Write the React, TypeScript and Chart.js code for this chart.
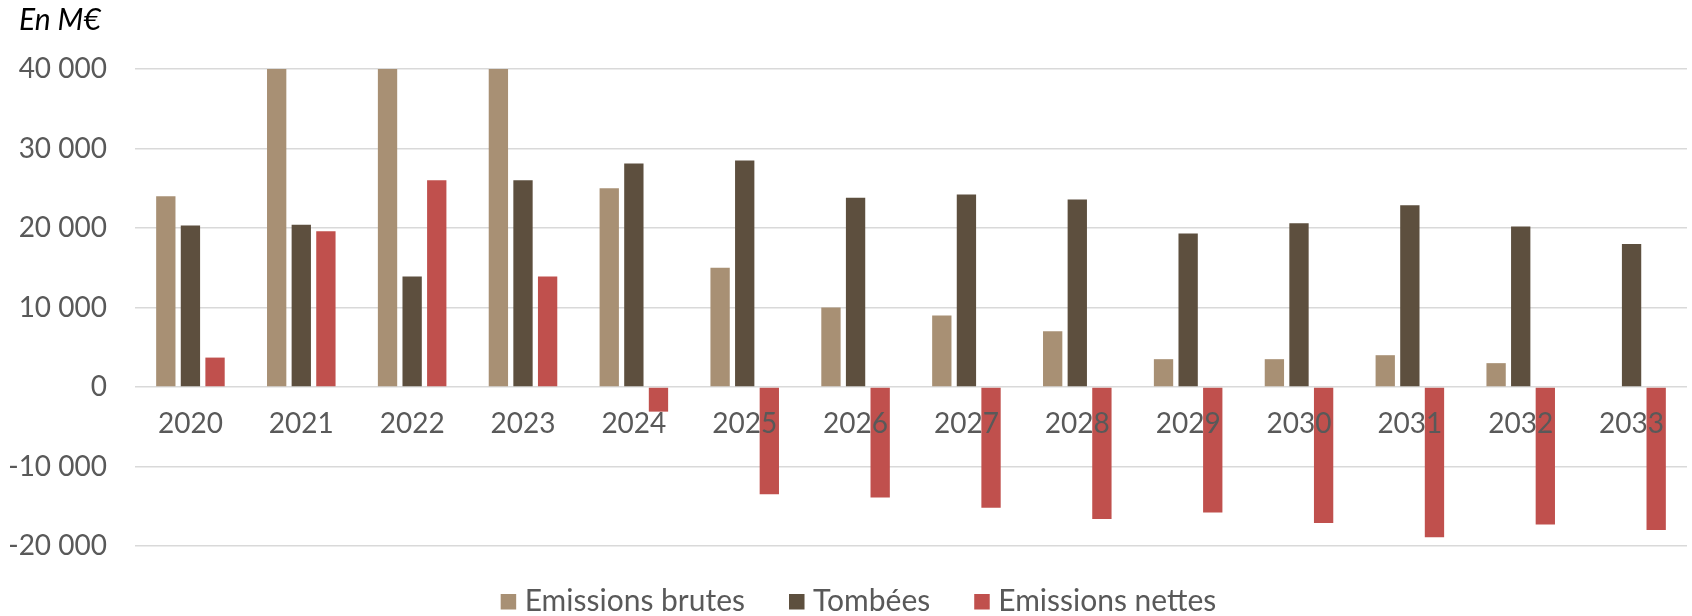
import { useEffect, useRef } from "react";
import { Chart, registerables } from "chart.js";

Chart.register(...registerables);

// Years on the category axis
const years = ["2020", "2021", "2022", "2023", "2024", "2025", "2026", "2027", "2028", "2029", "2030", "2031", "2032", "2033"];

// Series, in M€
const emissionsBrutes = [24000, 40000, 40000, 40000, 25000, 15000, 10000, 9000, 7000, 3500, 3500, 4000, 3000, 0];
const tombees = [20300, 20400, 13900, 26000, 28100, 28500, 23800, 24200, 23600, 19300, 20600, 22850, 20200, 18000];
const emissionsNettes = [3700, 19600, 26000, 13900, -3100, -13500, -13900, -15200, -16600, -15800, -17100, -18900, -17300, -18000];

// Value axis ticks
const yTickValues = [-20000, -10000, 0, 10000, 20000, 30000, 40000];

const seriesNames = ["Emissions brutes", "Tombées", "Emissions nettes"];
const seriesColors = ["#A89074", "#5D4F3E", "#C0504D"];

const unitLabel = "En M€";
const FONT = "Lato, 'Open Sans', sans-serif";
const TEXT_GREY = "#595959";

const formatThousands = (v: number) => {
  const sign = v < 0 ? "-" : "";
  const s = Math.abs(v).toString().replace(/\B(?=(\d{3})+(?!\d))/g, " ");
  return sign + s;
};

// Unit caption in the top-left corner
const unitPlugin = {
  id: "unitCaption",
  afterDraw(chart: any) {
    const ctx = chart.ctx;
    ctx.save();
    ctx.font = `italic 30px ${FONT}`;
    ctx.fillStyle = "#000000";
    ctx.textAlign = "left";
    ctx.textBaseline = "alphabetic";
    ctx.fillText(unitLabel, 19, 29.5);
    ctx.restore();
  },
};

// Legend row along the bottom edge
const bottomLegendPlugin = {
  id: "bottomLegend",
  afterDraw(chart: any) {
    const ctx = chart.ctx;
    ctx.save();
    ctx.font = `30px ${FONT}`;
    const box = 15.5;
    const gapText = 8.5;
    const gapItem = 44;
    const items = chart.data.datasets.map((ds: any) => ({
      text: ds.label as string,
      color: ds.backgroundColor as string,
      w: ctx.measureText(ds.label).width,
    }));
    const total =
      items.reduce((s: number, it: any) => s + box + gapText + it.w, 0) + gapItem * (items.length - 1);
    let x = chart.width / 2 + 12.5 - total / 2;
    const baseline = chart.height - 5.3;
    ctx.textAlign = "left";
    ctx.textBaseline = "alphabetic";
    for (const it of items) {
      ctx.fillStyle = it.color;
      ctx.fillRect(x, baseline - 16.7, box, box);
      x += box + gapText;
      ctx.fillStyle = TEXT_GREY;
      ctx.fillText(it.text, x, baseline);
      x += it.w + gapItem;
    }
    ctx.restore();
  },
};

export default function App() {
  const canvasRef = useRef<HTMLCanvasElement | null>(null);

  useEffect(() => {
    document.body.style.margin = "0";
    const canvas = canvasRef.current;
    if (!canvas) return;

    const chart = new Chart(canvas, {
      type: "bar",
      data: {
        labels: years,
        datasets: [
          { label: seriesNames[0], data: emissionsBrutes, backgroundColor: seriesColors[0] },
          { label: seriesNames[1], data: tombees, backgroundColor: seriesColors[1] },
          { label: seriesNames[2], data: emissionsNettes, backgroundColor: seriesColors[2] },
        ],
      },
      options: {
        responsive: true,
        maintainAspectRatio: false,
        animation: false,
        devicePixelRatio: 1,
        layout: { padding: { top: 69, bottom: 70, left: 10, right: 5 } },
        datasets: {
          bar: { categoryPercentage: 0.666, barPercentage: 0.785 },
        },
        plugins: {
          legend: { display: false },
          title: { display: false },
          tooltip: { enabled: false },
        },
        scales: {
          x: {
            type: "category",
            position: { y: 0 } as any,
            grid: { display: false, drawTicks: false },
            border: { display: false },
            ticks: {
              z: 1,
              color: TEXT_GREY,
              font: { family: FONT, size: 28 },
              padding: 20,
              maxRotation: 0,
              autoSkip: false,
            },
          },
          y: {
            min: -20000,
            max: 40000,
            afterBuildTicks: (axis: any) => {
              axis.ticks = yTickValues.map((v) => ({ value: v }));
            },
            afterFit: (axis: any) => {
              axis.width = 125;
            },
            grid: { color: "#d9d9d9", lineWidth: 1.5, drawTicks: false },
            border: { display: false },
            ticks: {
              color: TEXT_GREY,
              font: { family: FONT, size: 28 },
              padding: 28,
              callback: (v: any) => formatThousands(Number(v)),
            },
          },
        },
      },
      plugins: [unitPlugin, bottomLegendPlugin],
    });

    return () => chart.destroy();
  }, []);

  return (
    <div style={{ position: "relative", width: "1692px", height: "616px" }}>
      <canvas ref={canvasRef} />
    </div>
  );
}
